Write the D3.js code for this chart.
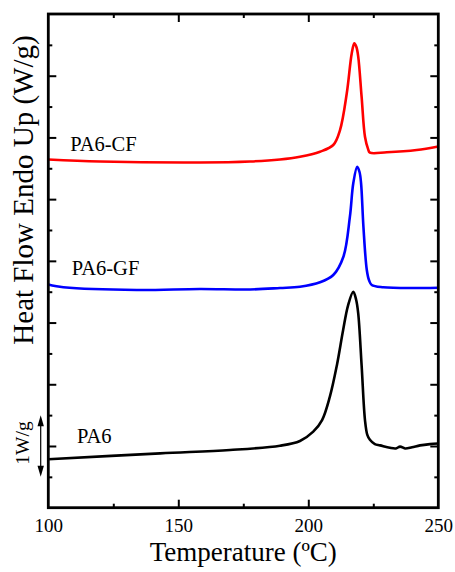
<!DOCTYPE html>
<html>
<head>
<meta charset="utf-8">
<script src="https://cdn.jsdelivr.net/npm/d3@7"></script>
<style>
  html, body { margin: 0; padding: 0; background: #fff; }
  svg { display: block; }
</style>
</head>
<body>
<svg id="chart" width="455" height="572"></svg>
<script>
// DSC heating scans, heat flow (W/g, curves offset vertically) vs temperature (°C)
const temperaturePA6 = [100, 143, 169.9, 189.1, 196.8, 201.9, 205.3, 208.3, 211, 213.4, 215.3, 217.3, 218.4, 219.2, 220.5, 221.8, 222.7, 223.7, 225.6, 227.6, 231.4, 233.7, 235.3, 237.2, 239.9, 243, 246.8, 250];
const heatFlowPA6 = [0.784, 0.881, 0.935, 1.005, 1.081, 1.232, 1.42, 1.80, 2.31, 2.88, 3.28, 3.50, 3.37, 3.15, 2.31, 1.42, 1.18, 1.10, 1.03, 1.01, 0.97, 0.96, 0.99, 0.96, 0.98, 1.01, 1.03, 1.04];

const temperatureGF = [100, 102.6, 105.8, 134, 158.3, 177.6, 189.1, 196.8, 204.5, 209.6, 213.5, 216, 217.3, 218.8, 219.7, 220.3, 221.2, 222.5, 223.4, 224.4, 228.8, 250];
const heatFlowGF = [3.617, 3.593, 3.572, 3.528, 3.544, 3.536, 3.56, 3.581, 3.653, 3.771, 4.067, 4.716, 5.257, 5.526, 5.44, 5.257, 4.553, 3.852, 3.68, 3.609, 3.572, 3.565];

const temperatureCF = [100, 119.9, 158.3, 177.6, 189.1, 196.8, 204.5, 209.6, 212.2, 214.8, 216.7, 217.7, 218.5, 219.2, 220.5, 221.8, 223, 223.7, 230.2, 241.7, 250];
const heatFlowCF = [5.643, 5.61, 5.594, 5.61, 5.643, 5.688, 5.769, 5.877, 6.12, 6.715, 7.36, 7.525, 7.465, 7.31, 6.66, 6.01, 5.81, 5.753, 5.759, 5.796, 5.853];

const seriesNames = ["PA6", "PA6-GF", "PA6-CF"];
const seriesColors = ["#000000", "#0000ff", "#ff0000"];
const xTickValues = [100, 150, 200, 250];
const xMinorTicks = [125, 175, 225];
const yMajorTicks = [1, 2, 3, 4, 5, 6, 7];
const yMinorTicks = [0.5, 1.5, 2.5, 3.5, 4.5, 5.5, 6.5, 7.5];
const scaleBar = [0.5, 1.5]; // 1 W/g
const scaleBarLabel = "1W/g";

const serif = "'Liberation Serif', 'Times New Roman', 'DejaVu Serif', serif";
const svg = d3.select("#chart");
const plotLeft = 48.3, plotRight = 438.3, plotTop = 14, plotBottom = 507.7;

const x = d3.scaleLinear().domain([100, 250]).range([plotLeft, plotRight]);
const y = d3.scaleLinear().domain([0, 8]).range([plotBottom, plotTop]);

// curves
const series = [
  { name: seriesNames[0], t: temperaturePA6, v: heatFlowPA6, color: seriesColors[0] },
  { name: seriesNames[1], t: temperatureGF, v: heatFlowGF, color: seriesColors[1] },
  { name: seriesNames[2], t: temperatureCF, v: heatFlowCF, color: seriesColors[2] }
];
const line = d3.line().x(d => x(d[0])).y(d => y(d[1])).curve(d3.curveCatmullRom.alpha(0.5));
series.forEach(s => {
  svg.append("path")
    .attr("d", line(d3.zip(s.t, s.v)))
    .attr("fill", "none")
    .attr("stroke", s.color)
    .attr("stroke-width", 2.6)
    .attr("stroke-linejoin", "round");
});

// axes with inward ticks on all four sides (marks only)
function tickAxis(axisFn, scale, values, size, transform) {
  const g = svg.append("g").attr("transform", transform)
    .call(axisFn(scale).tickValues(values).tickSize(size));
  g.select(".domain").remove();
  g.selectAll(".tick text").remove();
  g.selectAll(".tick line").attr("stroke", "#000").attr("stroke-width", 2);
  return g;
}
tickAxis(d3.axisTop, x, xTickValues.slice(1, -1), 8, `translate(0,${plotBottom})`);
tickAxis(d3.axisTop, x, xMinorTicks, 4, `translate(0,${plotBottom})`);
tickAxis(d3.axisBottom, x, xTickValues.slice(1, -1), 8, `translate(0,${plotTop})`);
tickAxis(d3.axisBottom, x, xMinorTicks, 4, `translate(0,${plotTop})`);
tickAxis(d3.axisRight, y, yMajorTicks, 8, `translate(${plotLeft},0)`);
tickAxis(d3.axisRight, y, yMinorTicks, 4, `translate(${plotLeft},0)`);
tickAxis(d3.axisLeft, y, yMajorTicks, 8, `translate(${plotRight},0)`);
tickAxis(d3.axisLeft, y, yMinorTicks, 4, `translate(${plotRight},0)`);

// x tick labels
const xLabels = svg.append("g").attr("transform", `translate(0,${plotBottom})`)
  .call(d3.axisBottom(x).tickValues(xTickValues).tickSize(0).tickPadding(0));
xLabels.select(".domain").remove();
xLabels.attr("font-family", serif).attr("font-size", 19);
xLabels.selectAll(".tick text")
  .attr("y", 24.5).attr("dy", null)
  .attr("fill", "#000");

// frame
svg.append("rect")
  .attr("x", plotLeft).attr("y", plotTop)
  .attr("width", plotRight - plotLeft).attr("height", plotBottom - plotTop)
  .attr("fill", "none").attr("stroke", "#000").attr("stroke-width", 2.8);

// curve labels
const labelPos = [
  { t: 111, v: heatFlowPA6[0] + 0.27 },
  { t: 109, v: heatFlowGF[0] + 0.15 },
  { t: 108.4, v: heatFlowCF[0] + 0.14 }
];
series.forEach((s, i) => {
  svg.append("text")
    .attr("x", x(labelPos[i].t)).attr("y", y(labelPos[i].v))
    .attr("font-family", serif)
    .attr("font-size", 20.5)
    .text(s.name);
});

// 1 W/g scale bar
const barX = 40.7;
svg.append("line")
  .attr("x1", barX).attr("x2", barX)
  .attr("y1", y(scaleBar[0]) - 6).attr("y2", y(scaleBar[1]) + 6)
  .attr("stroke", "#000").attr("stroke-width", 1.2);
[[scaleBar[1], 1], [scaleBar[0], -1]].forEach(([v, dir]) => {
  const yy = y(v);
  svg.append("path")
    .attr("d", `M${barX},${yy} L${barX - 3.2},${yy + dir * 11} L${barX + 3.2},${yy + dir * 11} Z`)
    .attr("fill", "#000");
});
svg.append("text")
  .attr("transform", `translate(28.5,443) rotate(-90)`)
  .attr("text-anchor", "middle")
  .attr("font-family", serif)
  .attr("font-size", 19.5)
  .text(scaleBarLabel);

// axis titles
svg.append("text")
  .attr("x", (plotLeft + plotRight) / 2).attr("y", 561)
  .attr("text-anchor", "middle")
  .attr("font-family", serif)
  .attr("font-size", 27)
  .text("Temperature (ºC)");
svg.append("text")
  .attr("transform", `translate(33,190) rotate(-90)`)
  .attr("text-anchor", "middle")
  .attr("font-family", serif)
  .attr("font-size", 29)
  .text("Heat Flow Endo Up (W/g)");
</script>
</body>
</html>
